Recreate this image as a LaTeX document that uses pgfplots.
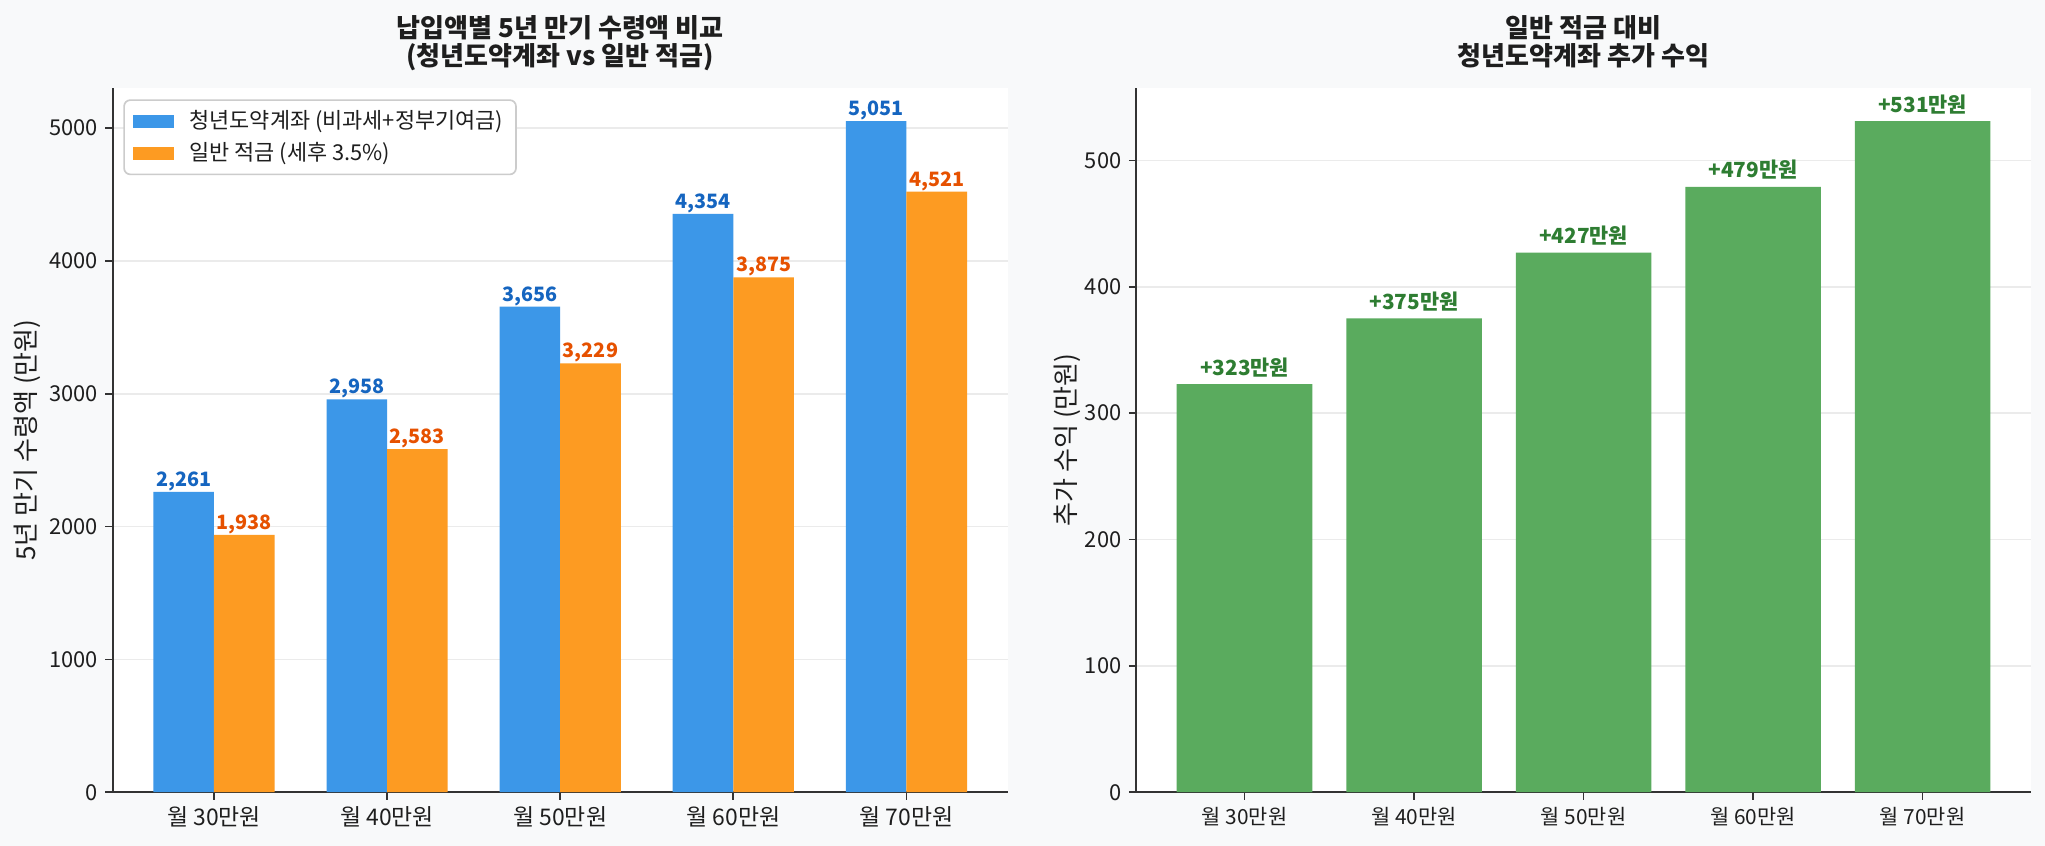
\documentclass[border=0pt]{standalone}
\usepackage{fontspec}
\setmainfont{Noto Sans CJK KR}
\usepackage{pgfplots}
\pgfplotsset{compat=1.18}
\usepackage{pgfplotstable}

\definecolor{bg}{HTML}{F8F9FA}
\definecolor{cblue}{HTML}{3C97E8}
\definecolor{corange}{HTML}{FD9B22}
\definecolor{cgreen}{HTML}{5AAB5E}
\definecolor{tblue}{HTML}{1565C0}
\definecolor{torange}{HTML}{E65100}
\definecolor{tgreen}{HTML}{2E7D32}
\definecolor{spine}{HTML}{333333}
\definecolor{gridc}{HTML}{EBEBEB}
\definecolor{txt}{HTML}{1E1E1E}
\definecolor{legedge}{HTML}{CCCCCC}

\pgfplotstableread{
x b o bl ol g gl
0 2261 1938 2,261 1,938 323 +323만원
1 2958 2583 2,958 2,583 375 +375만원
2 3656 3229 3,656 3,229 427 +427만원
3 4354 3875 4,354 3,875 479 +479만원
4 5051 4521 5,051 4,521 531 +531만원
}\data

\pgfplotsset{
  mylegend/.style={legend image code/.code={\fill[##1, sharp corners] (0pt,-3.1pt) rectangle (19.7pt,3.1pt);}},
  base/.style={
    scale only axis, width=429.6pt, height=338.2pt,
    anchor=south west,
    axis background/.style={fill=white},
    axis x line*=bottom, axis y line*=left,
    axis line style={line width=1pt, color=spine},
    tick align=outside, major tick length=3.5pt,
    tick style={line width=0.8pt, color=spine},
    ymajorgrids, grid style={line width=0.8pt, color=gridc},
    ymin=0, enlargelimits=false,
    xtick={0,...,4},
    xticklabels={월 30만원, 월 40만원, 월 50만원, 월 60만원, 월 70만원},
    /pgf/number format/assume math mode=true,
    /pgf/number format/1000 sep={},
    yticklabel style={font=\fontsize{10.5}{12}\selectfont, color=txt},
    xticklabel style={color=txt},
    ylabel style={color=txt, anchor=center},
    ybar,
  }
}

\begin{document}
\begin{tikzpicture}
\fill[bg] (0,0) rectangle (981.6pt,406.08pt);

\begin{axis}[base, at={(54.1pt,25.8pt)},
  xmin=-0.585, xmax=4.585, ymax=5303.55,
  ytick={0,1000,...,5000}, bar width=0.35,
  xticklabel style={font=\fontsize{11}{13}\selectfont},
  ylabel={5년 만기 수령액 (만원)},
  ylabel style={at={(axis description cs:-0.095,0.5)}, font=\fontsize{12.5}{14}\selectfont},
  legend cell align=left,
  legend style={at={(0.0118,0.9835)}, anchor=north west, font=\fontsize{10.5}{12}\selectfont,
    draw=legedge, line width=0.8pt, rounded corners=3pt, fill=white, text=txt,
    inner xsep=4.2pt, inner ysep=3pt, row sep=1.2pt,
    /tikz/every odd column/.append style={column sep=5.5pt}},
]
\addplot[fill=cblue, draw=none, bar shift=-0.175,
  nodes near coords, point meta=explicit symbolic,
  nodes near coords style={font=\bfseries\fontsize{9.5}{11}\selectfont, color=tblue, inner sep=0.3pt},
  mylegend]
  table[x=x, y=b, meta=bl] {\data};
\addlegendentry{청년도약계좌 (비과세+정부기여금)}
\addplot[fill=corange, draw=none, bar shift=0.175,
  nodes near coords, point meta=explicit symbolic,
  nodes near coords style={font=\bfseries\fontsize{9.5}{11}\selectfont, color=torange, inner sep=0.3pt},
  mylegend]
  table[x=x, y=o, meta=ol] {\data};
\addlegendentry{일반 적금 (세후 3.5\%)}
\end{axis}

\begin{axis}[base, at={(545.3pt,25.8pt)},
  xmin=-0.64, xmax=4.64, ymax=557.55,
  ytick={0,100,...,500}, bar width=0.8,
  xticklabel style={font=\fontsize{10}{12}\selectfont},
  ylabel={추가 수익 (만원)},
  ylabel style={at={(axis description cs:-0.077,0.5)}, font=\fontsize{12.5}{14}\selectfont},
]
\addplot[fill=cgreen, draw=none, bar shift=0,
  nodes near coords, point meta=explicit symbolic,
  nodes near coords style={font=\bfseries\fontsize{10}{12}\selectfont, color=tgreen}]
  table[x=x, y=g, meta=gl] {\data};
\end{axis}

\begin{scope}[every node/.style={font=\bfseries\fontsize{12.5}{14}\selectfont, anchor=base, text=txt}]
\node at (268.9pt,388.3pt) {납입액별 5년 만기 수령액 비교};
\node at (268.9pt,374.8pt) {(청년도약계좌 vs 일반 적금)};
\node at (760.1pt,388.3pt) {일반 적금 대비};
\node at (760.1pt,374.8pt) {청년도약계좌 추가 수익};
\end{scope}

\pgfresetboundingbox
\useasboundingbox (0,0) rectangle (981.6pt,406.08pt);
\end{tikzpicture}
\end{document}
